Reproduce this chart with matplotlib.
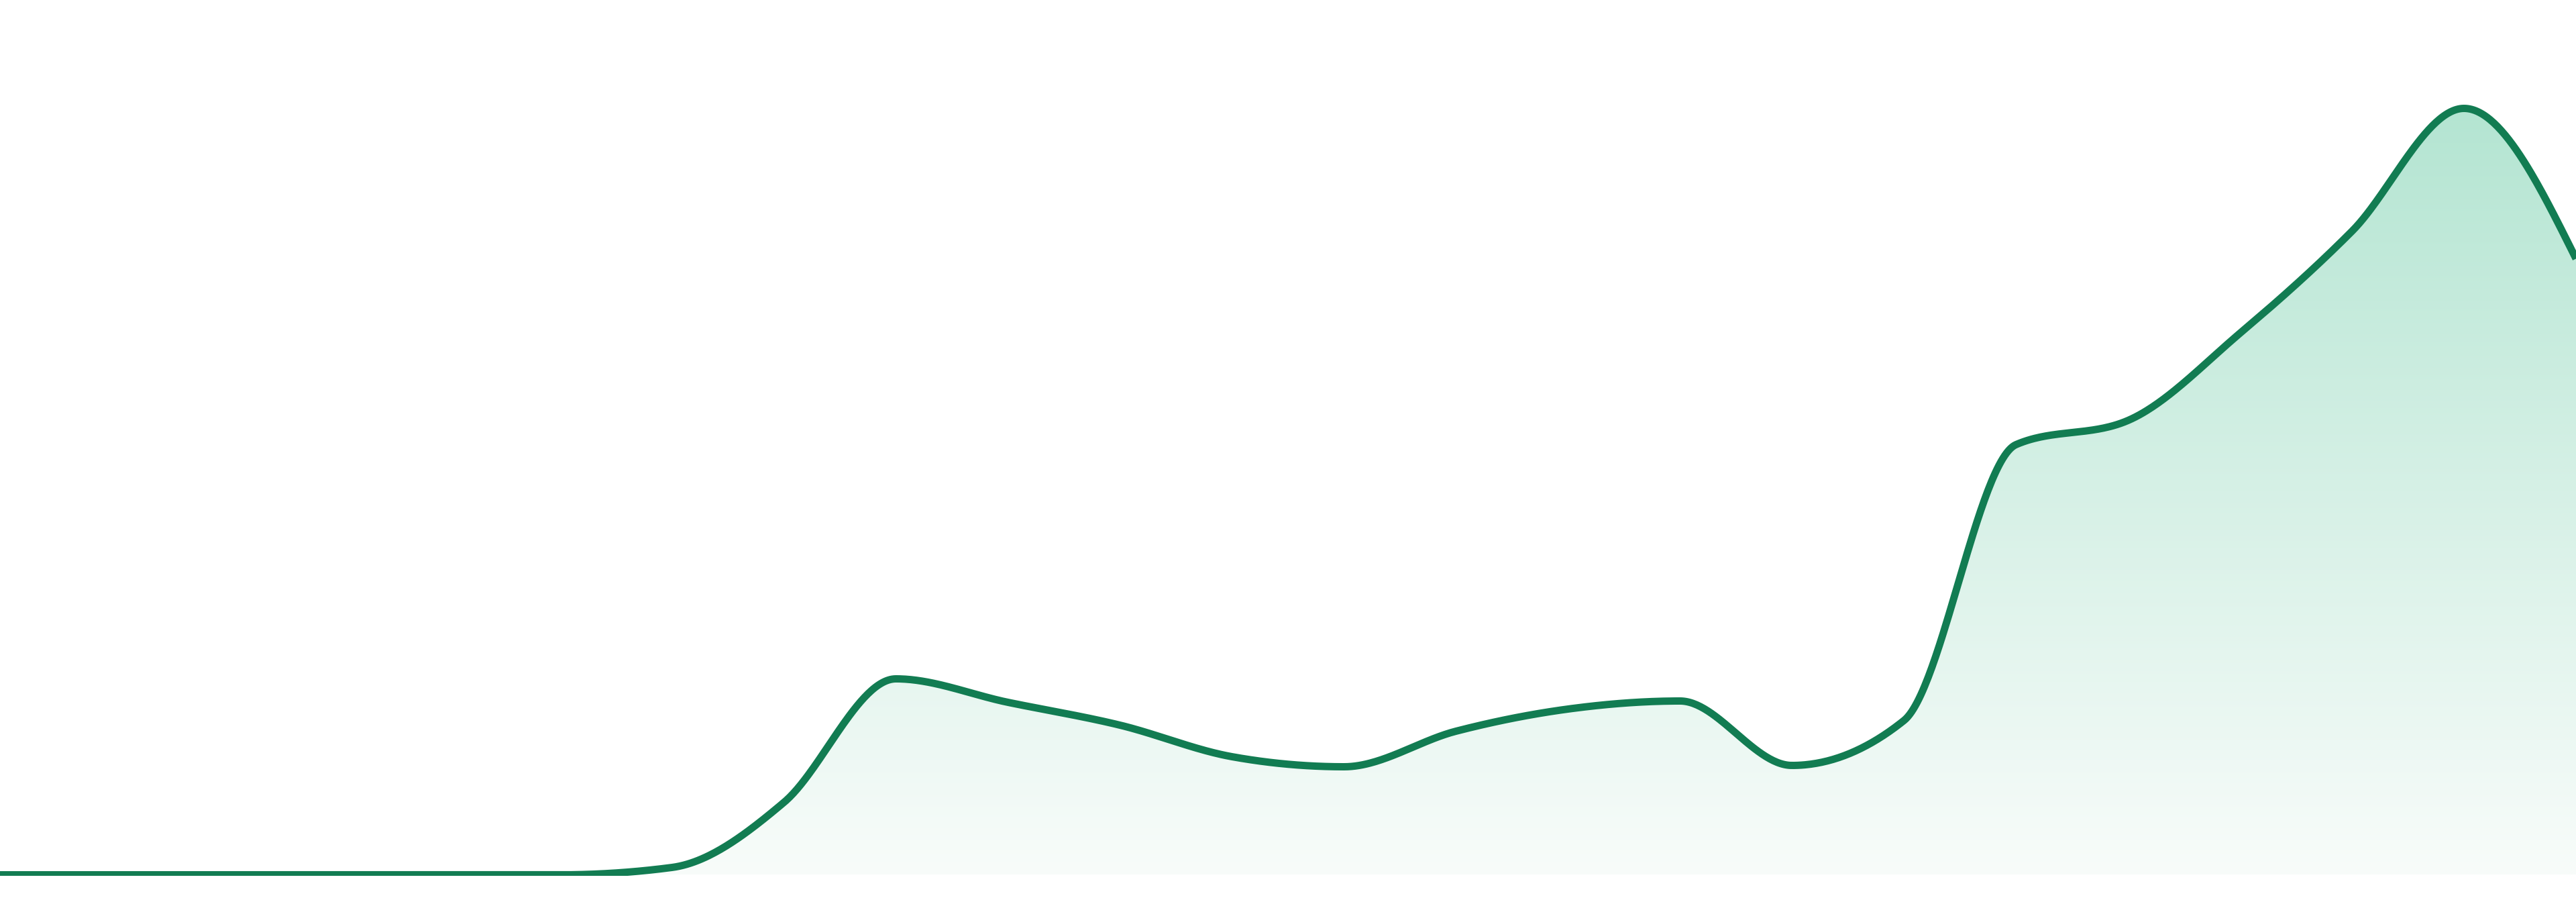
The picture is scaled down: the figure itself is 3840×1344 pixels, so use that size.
#!/usr/bin/env python3
"""Sparkline-style area chart: smooth green line over a fading green fill."""
import numpy as np
import matplotlib

matplotlib.use("Agg")
import matplotlib.pyplot as plt
from matplotlib.colors import to_rgb
from matplotlib.patches import Polygon


# 24 evenly spaced samples (arbitrary units, 0 = floor)
STEPS = list(range(24))
VALUES = [0, 0, 0, 0, 0, 0, 11, 108, 292, 257, 223, 176,
          161, 214, 247, 259, 163, 230, 641, 677, 807, 959, 1142, 918]

LINE_COLOR = "#127c52"
FILL_TOP = "#b4e5d2"
FILL_BOTTOM = "#f8fcfa"


def monotone_x(x, y, n=60):
    """Monotone cubic interpolation in x (same tangents as d3.curveMonotoneX)."""
    x = np.asarray(x, float)
    y = np.asarray(y, float)
    h = np.diff(x)
    s = np.diff(y) / h
    sgn = lambda v: -1.0 if v < 0 else 1.0
    t = np.zeros_like(y)
    for i in range(1, len(x) - 1):
        s0, s1 = s[i - 1], s[i]
        p = (s0 * h[i] + s1 * h[i - 1]) / (h[i - 1] + h[i])
        t[i] = (sgn(s0) + sgn(s1)) * min(abs(s0), abs(s1), 0.5 * abs(p))
    t[0] = (3 * s[0] - t[1]) / 2
    t[-1] = (3 * s[-1] - t[-2]) / 2

    xs, ys = [], []
    u = np.linspace(0, 1, n, endpoint=False)
    h00 = 2 * u**3 - 3 * u**2 + 1
    h10 = u**3 - 2 * u**2 + u
    h01 = -2 * u**3 + 3 * u**2
    h11 = u**3 - u**2
    for i in range(len(x) - 1):
        xs.append(x[i] + u * h[i])
        ys.append(h00 * y[i] + h10 * h[i] * t[i] + h01 * y[i + 1] + h11 * h[i] * t[i + 1])
    xs.append([x[-1]])
    ys.append([y[-1]])
    return np.concatenate(xs), np.concatenate(ys)


fig = plt.figure(figsize=(38.4, 13.44), dpi=100)
fig.patch.set_facecolor("white")
ax = fig.add_axes([0, 39 / 1344, 1, 1305 / 1344])
ax.axis("off")

cx, cy = monotone_x(STEPS, VALUES)

# gradient fill, clipped to the area under the curve
top = np.array(to_rgb(FILL_TOP))
bot = np.array(to_rgb(FILL_BOTTOM))
k = np.linspace(0, 1, 256)[:, None]
grad = (top * (1 - k) + bot * k)[:, None, :]
im = ax.imshow(grad, extent=[STEPS[0], STEPS[-1], 0, max(VALUES)],
               aspect="auto", interpolation="bicubic", zorder=1)
verts = np.column_stack([np.r_[cx, cx[-1], cx[0]], np.r_[cy, 0, 0]])
area = Polygon(verts, closed=True, facecolor="none", edgecolor="none")
ax.add_patch(area)
im.set_clip_path(area)

ax.plot(cx, cy, color=LINE_COLOR, linewidth=7.9, solid_capstyle="butt",
        solid_joinstyle="round", zorder=3)

ax.set_xlim(STEPS[0], STEPS[-1])
ax.set_ylim(-1.5, 1303.5)

fig.savefig("out.png", dpi=100, facecolor="white")
print("[+] saved out.png")
